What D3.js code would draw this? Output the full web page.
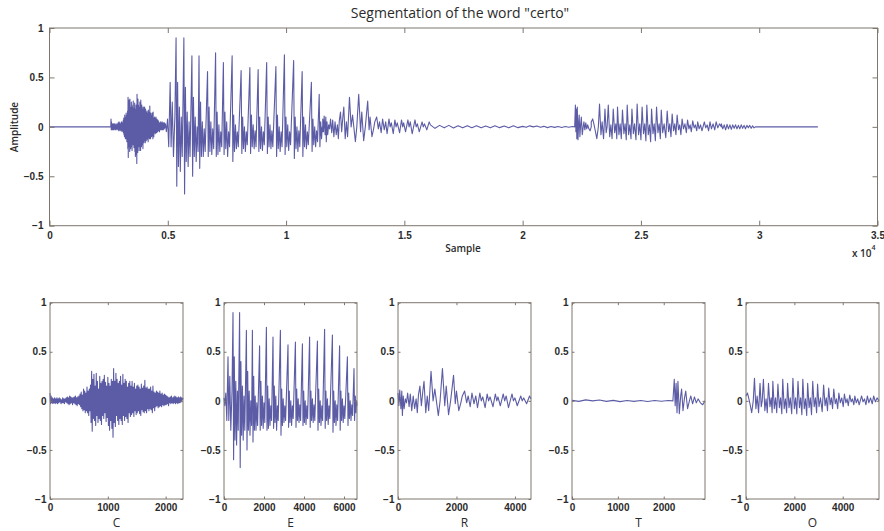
<!DOCTYPE html>
<html>
<head>
<meta charset="utf-8">
<script src="https://cdn.jsdelivr.net/npm/d3@7/dist/d3.min.js"></script>
<style>
	body { margin: 0; background: #fff; }
	svg { display: block; font-family: "Open Sans", "Liberation Sans", sans-serif; }
	.box { fill: none; stroke: #7f766e; stroke-width: 1; }
	.axis path { display: none; }
	.axis line { stroke: #7f766e; }
	.axis text { fill: #2b2b2b; font-size: 10px; font-weight: 600; }
	.wave { fill: none; stroke: #4a4a9c; stroke-width: 1.1; stroke-opacity: 0.9; stroke-linejoin: round; }
	.label { fill: #2b2b2b; }
</style>
</head>
<body>
<svg id="chart" width="884" height="531"></svg>
<script>
// segment names shown under the small plots
var segmentNames = ["C", "E", "R", "T", "O"];
// length of each segment in samples
var segmentLengths = [2300, 6650, 4550, 2900, 5500];
// where each segment starts inside the whole word
var segmentOffsets = [2600, 4900, 11550, 20000, 22900];
var wordLength = 32480;

var amplitudeTicks = [-1, -0.5, 0, 0.5, 1];
var sampleTicks = [0, 0.5, 1, 1.5, 2, 2.5, 3, 3.5]; // x 10^4
var cTicks = [0, 1000, 2000];
var eTicks = [0, 2000, 4000, 6000];
var rTicks = [0, 2000, 4000];
var tTicks = [0, 1000, 2000];
var oTicks = [0, 2000, 4000];

// "C": noisy burst, one value every 10 samples
var cStep = 10;
var cValues = [
	0.08, -0.03, 0.05, -0.02, 0.03, -0.03, 0.02, -0.02, 0.03, -0.03, 0.02,
	-0.02, 0.03, -0.03, 0.02, -0.02, 0.03, -0.01, 0.02, -0.03, 0.01, -0.02, 0.03, -0.02, 0.02, -0.03, 0.02, -0.01, 0.03, -0.02, 0.04,
	-0.03, 0.03, -0.04, 0.05, -0.03, 0.04, -0.02, 0.03, -0.04, 0.03, -0.02, 0.04, -0.03, 0.05, -0.04, 0.03, -0.05, 0.04, -0.03, 0.05,
	-0.04, 0.07, -0.06, 0.09, -0.08, 0.06, -0.1, 0.12, -0.09, 0.1, -0.12, 0.08, -0.1, 0.14, -0.12, 0.1, -0.15, 0.12, -0.1, 0.16,
	-0.22, 0.3, -0.31, 0.22, -0.18, 0.27, -0.2, 0.15, -0.25, 0.28, -0.15, 0.2, -0.22, 0.12, -0.18, 0.25, -0.2, 0.18, -0.24, 0.2,
	-0.15, 0.22, -0.18, 0.26, -0.12, 0.19, -0.21, 0.15, -0.17, 0.24,
	-0.25, 0.18, -0.3, 0.15, -0.2, 0.22, -0.28, 0.2, -0.37, 0.33, -0.22, 0.2, -0.26, 0.28, -0.15, 0.22, -0.2, 0.18, -0.24, 0.2,
	-0.18, 0.25, -0.2, 0.16, -0.24, 0.27, -0.15, 0.18, -0.2, 0.22, -0.16, 0.2, -0.18, 0.14, -0.22, 0.18, -0.12, 0.2, -0.16, 0.15,
	-0.14, 0.2, -0.12, 0.14, -0.16, 0.18, -0.1, 0.12, -0.14, 0.15, -0.12, 0.16, -0.1, 0.14, -0.13, 0.12, -0.15, 0.17, -0.09, 0.13,
	-0.11, 0.15, -0.12, 0.21, -0.1, 0.13, -0.12, 0.14, -0.08, 0.12,
	-0.1, 0.12, -0.08, 0.14, -0.09, 0.1, -0.12, 0.15, -0.07, 0.09, -0.1, 0.08, -0.06, 0.1, -0.05, 0.09, -0.07, 0.08, -0.06, 0.1,
	-0.05, 0.07, -0.06, 0.08, -0.04, 0.06, -0.05, 0.07, -0.04, 0.06,
	-0.04, 0.05, -0.03, 0.04, -0.05, 0.03, -0.02, 0.04, -0.03, 0.05, -0.02, 0.03, -0.03, 0.04, -0.02, 0.05, -0.03, 0.04, -0.02, 0.03,
	-0.03, 0.04, -0.02, 0.03, -0.02, 0.04, -0.01, 0.03, 0.01, 0.03
];

// "E": [sample, amplitude] turning points, one sharp pitch pulse per period
var ePoints = [
	[0, 0.03], [40, -0.05], [90, 0.08], [140, -0.2], [200, 0.45], [240, -0.2], [290, 0.25], [340, -0.3], [400, 0.1],
	[450, 0.9], [480, -0.6], [515, 0.45], [550, -0.4], [590, 0.2], [630, -0.45], [670, 0.1], [710, -0.3],
	[780, 0.9], [810, -0.68], [845, 0.4], [880, -0.35], [920, 0.15], [960, -0.4], [1000, 0.05], [1040, -0.3],
	[1120, 0.72], [1150, -0.5], [1185, 0.3], [1220, -0.3], [1260, 0.1], [1300, -0.35], [1340, 0.0], [1380, -0.25],
	[1420, 0.72], [1450, -0.42], [1485, 0.25], [1520, -0.3], [1560, 0.05], [1600, -0.3], [1640, -0.02], [1680, -0.25],
	[1780, 0.56], [1810, -0.3], [1845, 0.2], [1880, -0.25], [1920, 0.05], [1960, -0.28], [2000, -0.02], [2040, -0.22],
	[2120, 0.75], [2150, -0.3], [2185, 0.15], [2220, -0.28], [2260, 0.02], [2300, -0.25], [2340, -0.05], [2380, -0.2],
	[2450, 0.65], [2480, -0.28], [2515, 0.15], [2550, -0.22], [2590, 0.05], [2630, -0.3], [2670, -0.05], [2710, -0.2],
	[2820, 0.72], [2850, -0.35], [2885, 0.12], [2920, -0.25], [2960, 0.02], [3000, -0.22], [3040, -0.05], [3080, -0.2],
	[3200, 0.57], [3230, -0.27], [3265, 0.1], [3300, -0.22], [3340, 0.0], [3380, -0.25], [3420, -0.05], [3460, -0.18],
	[3570, 0.6], [3600, -0.27], [3635, 0.12], [3670, -0.2], [3710, 0.02], [3750, -0.22], [3790, -0.04], [3830, -0.2],
	[3920, 0.58], [3950, -0.25], [3985, 0.1], [4020, -0.22], [4060, 0.0], [4100, -0.24], [4140, -0.05], [4180, -0.18],
	[4280, 0.65], [4310, -0.27], [4345, 0.1], [4380, -0.2], [4420, 0.02], [4460, -0.22], [4500, -0.04], [4540, -0.2],
	[4670, 0.61], [4700, -0.3], [4735, 0.12], [4770, -0.22], [4810, 0.0], [4850, -0.25], [4890, -0.05], [4930, -0.2],
	[5030, 0.73], [5060, -0.28], [5095, 0.1], [5130, -0.2], [5170, 0.02], [5210, -0.24], [5250, -0.05], [5290, -0.18],
	[5420, 0.67], [5450, -0.32], [5485, 0.1], [5520, -0.22], [5560, 0.0], [5600, -0.25], [5640, -0.04], [5680, -0.2],
	[5780, 0.56], [5810, -0.3], [5845, 0.1], [5880, -0.2], [5920, 0.02], [5960, -0.22], [6000, -0.05], [6040, -0.18],
	[6170, 0.45], [6200, -0.25], [6235, 0.08], [6270, -0.18], [6310, 0.0], [6350, -0.2], [6390, -0.04], [6430, -0.15],
	[6500, 0.33], [6530, -0.2], [6565, 0.05], [6600, -0.12], [6630, 0.0], [6650, -0.05]
];

var rPoints = [
	[0, 0.08], [30, -0.05], [60, 0.11], [100, -0.08], [130, 0.1], [150, -0.15], [180, 0.05], [210, -0.08],
	[250, 0.02], [290, -0.02], [330, 0.08], [380, -0.06], [420, 0.07], [470, -0.1], [520, 0.05], [570, -0.08],
	[620, 0.02], [660, -0.12], [700, 0.06], [750, 0.15], [800, -0.05], [850, 0.1], [890, 0.2], [950, -0.12],
	[1000, 0.05], [1050, -0.1], [1130, 0.3], [1200, 0.0], [1260, 0.12], [1380, -0.15], [1440, 0.0], [1520, 0.33],
	[1600, -0.05], [1650, 0.15], [1730, -0.14], [1800, 0.0], [1900, 0.26], [1960, -0.03], [2000, 0.1], [2080, -0.1],
	[2150, -0.02], [2200, 0.05], [2280, 0.1], [2350, -0.02], [2400, 0.05], [2470, -0.06], [2530, 0.08], [2600, -0.03],
	[2660, 0.05], [2720, -0.07], [2800, 0.08], [2850, 0.0], [2900, 0.04], [2980, -0.07], [3050, 0.07], [3100, 0.0],
	[3150, 0.04], [3250, -0.06], [3330, 0.07], [3380, 0.0], [3420, 0.04], [3500, -0.05], [3600, 0.07], [3650, 0.0],
	[3700, 0.05], [3780, -0.07], [3900, 0.07], [3950, 0.0], [4000, 0.03], [4080, -0.05], [4200, 0.05], [4250, 0.0],
	[4300, 0.03], [4400, -0.03], [4500, 0.05], [4550, 0.02]
];

var tPoints = [
	[0, 0.005], [150, -0.005], [300, 0.01], [450, 0.0], [600, 0.008], [750, -0.005], [900, 0.005], [1050, -0.008],
	[1200, 0.003], [1350, -0.005], [1500, 0.004], [1650, -0.006], [1800, 0.003], [1950, -0.004], [2100, 0.003], [2200, 0.0],
	[2230, 0.22], [2250, -0.05], [2270, 0.18], [2290, -0.12], [2310, 0.2], [2340, -0.13], [2370, 0.05], [2390, 0.12],
	[2420, -0.1], [2450, 0.02], [2480, 0.1], [2520, -0.08], [2560, 0.0], [2590, 0.05], [2630, -0.03], [2670, 0.04],
	[2710, -0.02], [2750, 0.02], [2800, -0.02], [2850, -0.04], [2900, 0.0]
];

var oPoints = [
	[0, 0.05], [60, 0.08], [120, 0.02], [180, -0.05], [235, -0.12], [300, 0.0], [350, 0.23], [410, -0.08], [460, 0.05], [520, -0.12],
	[580, 0.18], [630, -0.06], [670, 0.0], [720, 0.22], [780, -0.1], [830, 0.02], [880, -0.12],
	[930, 0.18], [990, -0.06], [1040, 0.03], [1080, -0.12], [1110, 0.2], [1170, -0.08], [1220, 0.03], [1270, -0.12],
	[1320, 0.17], [1380, -0.07], [1430, 0.03], [1480, -0.13], [1520, 0.22], [1580, -0.08], [1630, 0.02], [1680, -0.12],
	[1720, 0.18], [1780, -0.07], [1830, 0.03], [1890, -0.13], [1940, 0.23], [2000, -0.08], [2050, 0.03], [2100, -0.13],
	[2150, 0.2], [2210, -0.07], [2260, 0.03], [2310, -0.14], [2350, 0.22], [2410, -0.08], [2460, 0.02], [2510, -0.15],
	[2550, 0.18], [2610, -0.07], [2660, 0.03], [2710, -0.14], [2760, 0.2], [2820, -0.06], [2870, 0.03], [2920, -0.12],
	[2960, 0.17], [3020, -0.06], [3080, 0.03], [3150, -0.11], [3210, 0.16], [3270, -0.05], [3320, 0.03], [3370, -0.1],
	[3420, 0.13], [3480, -0.04], [3530, 0.03], [3580, -0.08], [3630, 0.12], [3690, -0.03], [3740, 0.02], [3790, -0.08],
	[3840, 0.08], [3900, -0.02], [3960, 0.03], [4020, -0.06], [4070, 0.07], [4130, -0.02], [4180, 0.02], [4230, -0.05],
	[4290, 0.06], [4350, -0.01], [4400, 0.02], [4460, -0.04], [4500, 0.05], [4560, -0.02], [4620, 0.02], [4680, -0.04],
	[4780, 0.05], [4840, -0.01], [4900, 0.02], [4960, -0.04], [5020, 0.05], [5080, -0.02], [5150, 0.03], [5220, -0.03],
	[5280, 0.05], [5350, -0.01], [5420, 0.03], [5500, 0.0]
];

// low ripple between "R" and "T" (starts at 16100), one value every 195 samples
var gapStart = 16100;
var gapStep = 195;
var gapValues = [0.02, -0.015, 0.015, -0.01, 0.015, -0.012, 0.01, -0.01, 0.012, -0.008, 0.01, -0.01, 0.008, -0.01, 0.01, -0.008, 0.008, -0.01, 0.01, -0.008, 0.005];

// decay after "O" (starts at 28400), one value every 60 samples
var tailStart = 28400;
var tailStep = 60;
var tailValues = [0.03, -0.02, 0.02, -0.03, 0.025, -0.02, 0.02, -0.025, 0.02, -0.015, 0.02, -0.02, 0.015, -0.02, 0.02, -0.015, 0.015, -0.02, 0.015, -0.01, 0.015, -0.015, 0.01, -0.01, 0.0];
var silenceEnd = 29830;


var svg = d3.select("#chart");
var main = { left: 49.5, right: 877.5, top: 28, bottom: 225.7 };
var sub = { lefts: [50, 224, 398, 572, 746], width: 133, top: 302.7, bottom: 499 };

function stepped (values, step) {
	return values.map(function(v, i){
		return [i * step, v];
	});
}

function shift (points, offset) {
	return points.map(function(p){
		return [p[0] + offset, p[1]];
	});
}

var segmentPoints = [stepped(cValues, cStep), ePoints, rPoints, tPoints, oPoints];
var segmentTicks = [cTicks, eTicks, rTicks, tTicks, oTicks];

function buildWord () {
	// silence up to the first segment
	var word = [[0, 0], [segmentOffsets[0] - 10, 0]];
	segmentPoints.forEach(function(points, i){
		word = word.concat(shift(points, segmentOffsets[i]));
		if (i === 2) {
			word = word.concat(shift(stepped(gapValues, gapStep), gapStart));
		}
	});
	word = word.concat(shift(stepped(tailValues, tailStep), tailStart));
	word.push([silenceEnd, 0], [wordLength, 0]);
	return word;
}

function translate (x, y) {
	return "translate(" + x + "," + y + ")";
}

function drawFrame (g, xScale, yScale, xTicks, yTicks, tickLen, pad, xFormat) {
	var w = xScale.range()[1], h = yScale.range()[0];
	g.append("g").attr("class", "axis x")
		.attr("transform", translate(0, h))
		.call(d3.axisBottom(xScale).tickValues(xTicks).tickSize(-tickLen).tickPadding(pad.x).tickFormat(xFormat));
	g.append("g").attr("class", "axis")
		.call(d3.axisTop(xScale).tickValues(xTicks).tickSize(-tickLen).tickFormat(""));
	g.append("g").attr("class", "axis y")
		.call(d3.axisLeft(yScale).tickValues(yTicks).tickSize(-tickLen).tickPadding(pad.y).tickFormat(d3.format("")));
	g.append("g").attr("class", "axis")
		.attr("transform", translate(w, 0))
		.call(d3.axisRight(yScale).tickValues(yTicks).tickSize(-tickLen).tickFormat(""));
	g.append("rect").attr("class", "box")
		.attr("width", w).attr("height", h);
}

function drawWave (g, points, xScale, yScale) {
	var line = d3.line()
		.x(function(d){ return xScale(d[0]); })
		.y(function(d){ return yScale(d[1]); });
	g.append("path")
		.datum(points)
		.attr("class", "wave")
		.attr("d", line);
}

function drawMain () {
	var g = svg.append("g").attr("transform", translate(main.left, main.top));
	var xScale = d3.scaleLinear().domain([0, 35000]).range([0, main.right - main.left]);
	var yScale = d3.scaleLinear().domain([-1, 1]).range([main.bottom - main.top, 0]);
	drawWave(g, buildWord(), xScale, yScale);
	drawFrame(g, xScale, yScale, sampleTicks.map(function(t){ return t * 1e4; }), amplitudeTicks,
		5, { x: 6.5, y: 6 }, function(d){ return d3.format("")(d / 1e4); });

	svg.append("text").attr("class", "label")
		.attr("x", 460).attr("y", 18)
		.attr("text-anchor", "middle")
		.style("font-size", "14px")
		.text("Segmentation of the word \"certo\"");
	svg.append("text").attr("class", "label")
		.attr("transform", translate(18, 127) + " rotate(-90)")
		.attr("text-anchor", "middle")
		.style("font-size", "10px").style("font-weight", "600")
		.text("Amplitude");
	svg.append("text").attr("class", "label")
		.attr("x", 463).attr("y", 252)
		.attr("text-anchor", "middle")
		.style("font-size", "10px").style("font-weight", "600")
		.text("Sample");
	var mult = svg.append("text").attr("class", "label")
		.attr("x", 852).attr("y", 257)
		.style("font-size", "10px").style("font-weight", "600");
	mult.append("tspan").text("x 10");
	mult.append("tspan").attr("dy", -7).style("font-size", "7px").text("4");
}

function drawSegment (i) {
	var g = svg.append("g").attr("transform", translate(sub.lefts[i], sub.top));
	var xScale = d3.scaleLinear().domain([0, segmentLengths[i]]).range([0, sub.width]);
	var yScale = d3.scaleLinear().domain([-1, 1]).range([sub.bottom - sub.top, 0]);
	drawWave(g, segmentPoints[i], xScale, yScale);
	drawFrame(g, xScale, yScale, segmentTicks[i], amplitudeTicks, 2.5, { x: 5, y: 3.5 }, d3.format(""));
	// letter name of the segment, just under the tick labels
	g.append("text").attr("class", "label")
		.attr("x", sub.width / 2).attr("y", sub.bottom - sub.top + 28)
		.attr("text-anchor", "middle")
		.style("font-size", "12px")
		.text(segmentNames[i]);
}

drawMain();
segmentNames.forEach(function(name, i){
	drawSegment(i);
});
</script>
</body>
</html>
